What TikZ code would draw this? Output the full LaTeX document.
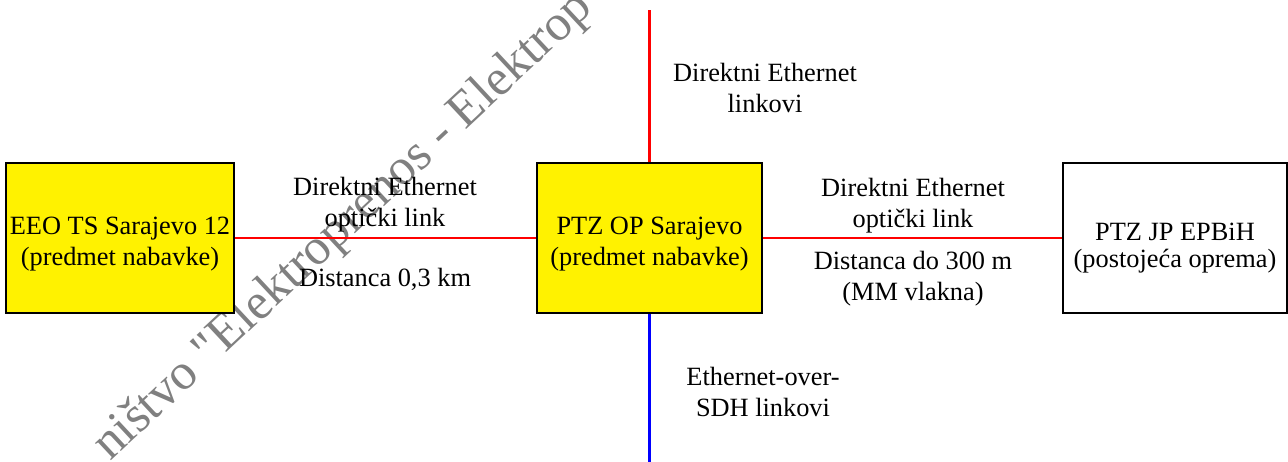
\documentclass[tikz,border=0pt]{standalone}
\usepackage{fontspec}
\setmainfont{Liberation Serif}
\usetikzlibrary{positioning}

\tikzset{
    box/.style={rectangle, draw=black, line width=1.1pt, minimum height=3cm},
    boxtext/.style={align=center, inner sep=0}
}

\begin{document}
\begin{tikzpicture}[x=0.02cm, y=-0.02cm, font=\fontsize{15}{17.5}\selectfont]
            \useasboundingbox (0,0) rectangle (1288,462);
            \begin{scope}
                \clip (0,0) rectangle (1288,462);
                \node[rotate=43, anchor=base west, inner sep=0, text=gray,
                      font=\fontsize{29}{30}\selectfont] (wm) at (110,462) {ništvo \textquotedbl Elektroprenos - Elektrop};
            \end{scope}

            \node[box, fill=yellow, minimum width=4.56cm] (TS) at (120,238) {};
            \node[box, fill=yellow, minimum width=4.5cm] (OP) at (649.5,238) {};
            \node[box, minimum width=4.48cm] (JP) at (1175,238) {};
            \node[boxtext] (TStext) at ([yshift=-0.12cm]TS.center) {EEO TS Sarajevo 12\\(predmet nabavke)};
            \node[boxtext] (OPtext) at ([yshift=-0.12cm]OP.center) {PTZ OP Sarajevo\\(predmet nabavke)};
            \node[boxtext, font=\fontsize{15}{15.5}\selectfont] (JPtext) at ([yshift=-0.2cm]JP.center) {PTZ JP EPBiH\\(postojeća oprema)};
            \coordinate (top) at (649.5,10);
            \coordinate (bot) at (649.5,462);

            \begin{scope}[every edge/.style={draw, line width=1.7pt}]
                \path (TS) edge[red] (OP);
                \path (OP) edge[red] (JP);
                \path (OP) edge[red] (top);
                \path (OP) edge[blue] (bot);
            \end{scope}

            \begin{scope}[every node/.style={align=center}]
                \node (linkL) at (385,205) {Direktni Ethernet\\optički link};
                \node (distL) at (385,279) {Distanca 0,3 km};
                \node (linkR) at (913,206) {Direktni Ethernet\\optički link};
                \node (distR) at (913,279) {Distanca do 300 m\\(MM vlakna)};
                \node (linkT) at (765,88) {Direktni Ethernet\\linkovi};
                \node (sdh) at (763,392) {Ethernet-over-\\SDH linkovi};
            \end{scope}
            %\path (OP) edge[dashed] (JP);
\end{tikzpicture}
\end{document}
